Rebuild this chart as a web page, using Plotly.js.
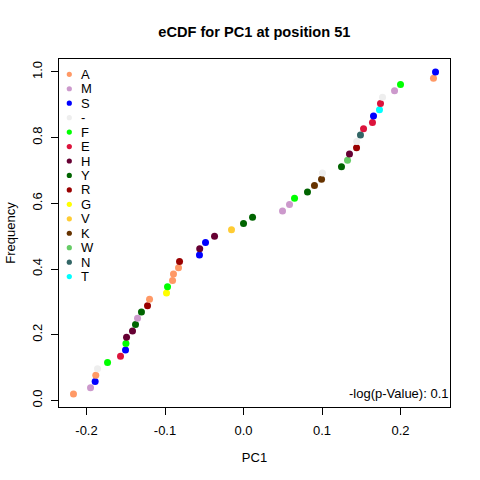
<!DOCTYPE html>
<html>
<head>
<meta charset="utf-8">
<script src="https://cdn.plot.ly/plotly-3.0.1.min.js"></script>
<style>html,body{margin:0;padding:0;background:#fff;}#plot{width:480px;height:480px;}</style>
</head>
<body>
<div id="plot"></div>
<script>
// PC1 values (sorted) and the residue at each point
var pc1Values = [-0.2166, -0.1949, -0.1890, -0.1882, -0.1860, -0.1732, -0.1567, -0.1503, -0.1498, -0.1490,
  -0.1414, -0.1376, -0.1350, -0.1300, -0.1223, -0.1197, -0.0981, -0.0968, -0.0904, -0.0892,
  -0.0828, -0.0815, -0.0561, -0.0558, -0.0484, -0.0369, -0.0153, 0.0000, 0.0115, 0.0497,
  0.0586, 0.0650, 0.0815, 0.0904, 0.0994, 0.1006, 0.1248, 0.1325, 0.1350, 0.1440,
  0.1442, 0.1490, 0.1529, 0.1643, 0.1656, 0.1732, 0.1745, 0.1771, 0.1924, 0.2000,
  0.2420, 0.2446];
var pointResidues = ['A','M','S','A','-','F','E','S','F','H',
  'H','Y','M','Y','R','A','G','F','A','A',
  'A','R','S','H','S','H','V','Y','Y','M',
  'M','F','Y','K','K','-','Y','W','H','R',
  '-','N','E','E','S','T','E','-','M','F',
  'A','S'];
// legend categories and colours
var residues = ['A','M','S','-','F','E','H','Y','R','G','V','K','W','N','T'];
var residueColors = ['#FF9966','#CC99CC','#0000FF','#EEEEEE','#00FF00','#DC143C','#660033','#006400',
  '#990000','#FFFF00','#FFCC33','#663300','#66CC66','#336666','#00FFFF'];
var xTickVals = [-0.2, -0.1, 0.0, 0.1, 0.2];
var xTickText = ['-0.2', '-0.1', '0.0', '0.1', '0.2'];
var yTickVals = [0, 0.2, 0.4, 0.6, 0.8, 1.0];
var yTickText = ['0.0', '0.2', '0.4', '0.6', '0.8', '1.0'];
var pValueText = '-log(p-Value): 0.1';

var FONT = 'Liberation Sans, Arial, Helvetica, sans-serif';
var FS = 13;
var n = pc1Values.length;
var sorted = pc1Values.slice().sort(function(a,b){return a-b;});
// empirical CDF: fraction of values <= x
var freq = pc1Values.map(function(v){
  var c = 0; for (var i=0;i<n;i++){ if (sorted[i] <= v) c++; } return c / n;
});
var colorOf = {};
residues.forEach(function(r,i){ colorOf[r] = residueColors[i]; });

var trace = {
  type: 'scatter', mode: 'markers',
  x: pc1Values, y: freq,
  marker: {size: 7, color: pointResidues.map(function(r){return colorOf[r];}), line: {width: 0}},
  text: pointResidues, hoverinfo: 'x+y+text', showlegend: false
};

// R-like axis extension (4%)
var xmin = Math.min.apply(null, pc1Values), xmax = Math.max.apply(null, pc1Values);
var ymin = Math.min.apply(null, freq), ymax = Math.max.apply(null, freq);
var xr = [xmin - 0.04*(xmax-xmin), xmax + 0.04*(xmax-xmin)];
var yr = [ymin - 0.04*(ymax-ymin), ymax + 0.04*(ymax-ymin)];

var M = {l: 59, r: 30, t: 59, b: 73};
var plotW = 480 - M.l - M.r, plotH = 480 - M.t - M.b;
function px2paperX(px){ return (px - M.l) / plotW; }
function px2paperY(py){ return (480 - M.b - py) / plotH; }

// custom R-style legend (no box)
var shapes = [], annotations = [];
residues.forEach(function(r, i){
  var cy = 74.3 + i * 14.45;
  shapes.push({type: 'circle', xref: 'paper', yref: 'paper', xsizemode: 'pixel', ysizemode: 'pixel',
    xanchor: px2paperX(69.3), yanchor: px2paperY(cy), x0: -2.6, x1: 2.6, y0: -2.6, y1: 2.6,
    fillcolor: residueColors[i], line: {width: 0}});
  annotations.push({xref: 'paper', yref: 'paper', x: px2paperX(78.5), y: px2paperY(cy),
    xanchor: 'left', yanchor: 'middle', text: r, showarrow: false,
    font: {family: FONT, size: FS, color: '#000'}});
});
annotations.push({xref: 'paper', yref: 'paper', x: px2paperX(450), y: px2paperY(393.5),
  xanchor: 'right', yanchor: 'middle', text: pValueText, showarrow: false,
  font: {family: FONT, size: FS, color: '#000'}});

var axisCommon = {
  showline: true, mirror: true, linecolor: '#000', linewidth: 1,
  ticks: 'outside', ticklen: 7, tickwidth: 1, tickcolor: '#000',
  showgrid: false, zeroline: false, tickmode: 'array',
  tickfont: {family: FONT, size: FS, color: '#000'}
};

var layout = {
  width: 480, height: 480,
  margin: M, paper_bgcolor: '#fff', plot_bgcolor: '#fff',
  font: {family: FONT, size: FS, color: '#000'},
  title: {text: 'eCDF for PC1 at position 51', font: {family: FONT, size: 14.6, weight: 'bold', color: '#000'},
    x: px2paperX(254.4), xref: 'paper', xanchor: 'center', y: 1 - 32/480, yref: 'container', yanchor: 'middle'},
  xaxis: Object.assign({}, axisCommon, {range: xr, tickvals: xTickVals, ticktext: xTickText, ticklabelstandoff: 4,
    title: {text: 'PC1', font: {family: FONT, size: FS, color: '#000'}, standoff: 16}}),
  yaxis: Object.assign({}, axisCommon, {range: yr, tickvals: yTickVals, ticktext: yTickText, tickangle: -90, ticklabelstandoff: 4,
    title: {text: 'Frequency', font: {family: FONT, size: FS, color: '#000'}, standoff: 11}}),
  shapes: shapes, annotations: annotations, showlegend: false
};

Plotly.newPlot('plot', [trace], layout, {staticPlot: true, displayModeBar: false});
</script>
</body>
</html>
